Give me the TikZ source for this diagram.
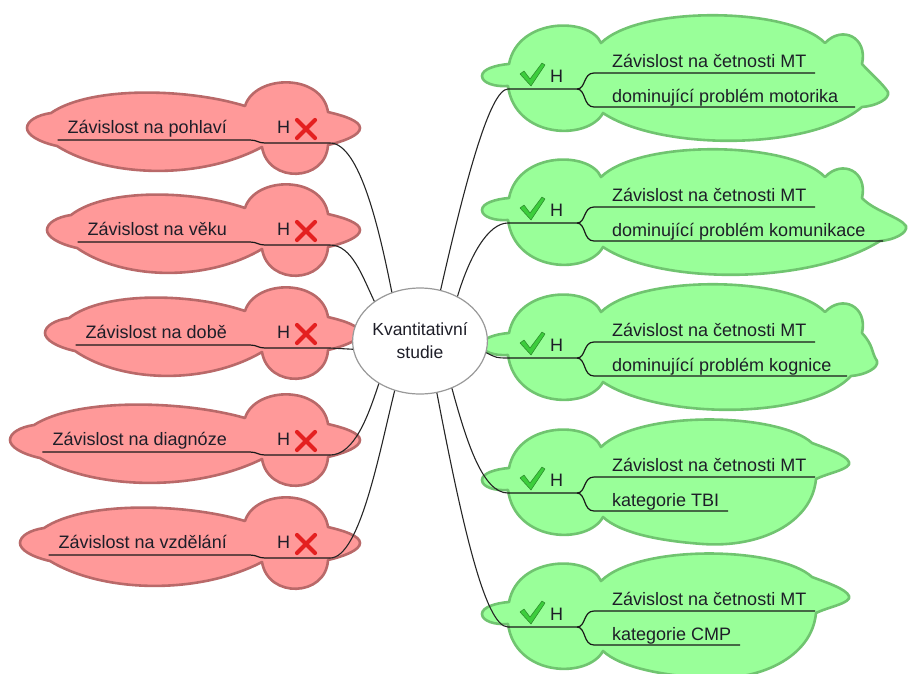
\documentclass[tikz,border=0pt]{standalone}
\usepackage{fontspec}
\setmainfont{Liberation Sans}
\usetikzlibrary{shapes.geometric,calc}
\definecolor{redfill}{RGB}{255,153,153}
\definecolor{reddraw}{RGB}{185,105,105}
\definecolor{greenfill}{RGB}{153,255,153}
\definecolor{greendraw}{RGB}{112,196,112}
\definecolor{txt}{RGB}{30,30,40}
\definecolor{xred}{RGB}{228,32,32}
\definecolor{chk}{RGB}{60,205,60}
\tikzset{
  redblob/.style={fill=redfill, draw=reddraw, line width=2.6pt, line join=round},
  greenblob/.style={fill=greenfill, draw=greendraw, line width=2.6pt, line join=round},
  uline/.style={draw=black!90, line width=1.2pt},
  conn/.style={draw=black!85, line width=1.1pt},
  lbl/.style={font=\fontsize{18}{20}\selectfont, text=txt, inner sep=0pt},
  xmark/.style={draw=xred, line width=4.2pt, line cap=round},
  chkmark/.style={fill=chk, draw=chk!65!black, line width=0.5pt, line join=round},
}
\newcommand\redcloud[2]{%
  \pgfmathsetmacro\sx{#1+24}\pgfmathsetmacro\sy{#1+30}%
  \pgfmathsetmacro\ca{#1+24+0.2*(221-#1)}\pgfmathsetmacro\cb{#1+24+0.7*(221-#1)}%
  \pgfmathsetmacro\cc{262-0.3*(232-#1)}\pgfmathsetmacro\cd{#1+30+0.25*(232-#1)}%
  \draw[redblob] (#1,#2) .. controls (#1,{#2-7}) and ({#1+10},{#2-13}) .. (\sx,{#2-15})
    .. controls (\ca,{#2-42}) and (\cb,{#2-40}) .. (245,{#2-22})
    .. controls (255,{#2-54}) and (322,{#2-55}) .. (328,{#2-16})
    .. controls (345,{#2-12}) and (360,{#2-7}) .. (360,#2)
    .. controls (360,{#2+7}) and (345,{#2+13}) .. (328,{#2+17})
    .. controls (326,{#2+54}) and (268,{#2+56}) .. (262,{#2+19})
    .. controls (\cc,{#2+52}) and (\cd,{#2+50}) .. (\sy,{#2+18})
    .. controls ({#1+12},{#2+14}) and (#1,{#2+7}) .. (#1,#2) -- cycle;
}
\newcommand\leftitem[4]{%
  \redcloud{#2}{#3}
  \node[lbl, anchor=base east] (lt#1) at (227,{#3+5}) {#4};
  \node[lbl, anchor=base west] (lh#1) at (277,{#3+5}) {H};
  \draw[xmark] (297,{#3-8}) -- (315,{#3+10}) (315,{#3-8}) -- (297,{#3+10});
  \coordinate (le#1) at (330,{#3+15});
  \draw[uline] ($(lt#1.base west)+(-10,7)$) -- (250,{#3+12}) .. controls (257,{#3+12}) and (258,{#3+15}) .. (265,{#3+15}) -- (le#1);
}
\newcommand\greenleftpart[1]{%
  (482,{#1-13}) .. controls (482,{#1-20}) and (496,{#1-24}) .. (509,{#1-25})
  .. controls (518,{#1-72}) and (590,{#1-72}) .. (601,{#1-46})}
\newcommand\greenbottompart[1]{%
  .. controls (588,{#1+52}) and (515,{#1+50}) .. (508,{#1-3})
  .. controls (495,{#1-2}) and (482,{#1-6}) .. (482,{#1-13}) -- cycle}
\newcommand\greenlong[2]{%
  \draw[greenblob] \greenleftpart{#1}
    .. controls (640,{#1-84}) and (790,{#1-82}) .. (825,{#1-46})
    .. controls (842,{#1-64}) and (868,{#1-52}) .. (862,{#1-25})
    .. controls (874,{#1-12}) and ({#2-6},{#1-6}) .. (#2,{#1+3})
    .. controls ({#2+2},{#1+10}) and ({#2-12},{#1+17}) .. ({#2-26},{#1+18})
    .. controls (810,{#1+62}) and (660,{#1+62}) .. (603,{#1+24})
    \greenbottompart{#1};
}
\newcommand\greenshort[1]{%
  \draw[greenblob] \greenleftpart{#1}
    .. controls (640,{#1-84}) and (780,{#1-80}) .. (812,{#1-50})
    .. controls (828,{#1-44}) and (846,{#1-38}) .. (849,{#1-31})
    .. controls (852,{#1-24}) and (828,{#1-20}) .. (816,{#1-14})
    .. controls (812,{#1+30}) and (760,{#1+55}) .. (703,{#1+51})
    .. controls (660,{#1+48}) and (620,{#1+40}) .. (603,{#1+24})
    \greenbottompart{#1};
}
\newcommand\rightitem[4]{%
  \node[lbl, anchor=base west] (rh#1) at (550,{#2-7}) {H};
  \filldraw[chkmark] (520,{#2-15}) -- (524,{#2-18}) -- (530,{#2-10}) -- (542,{#2-26}) -- (545,{#2-24}) -- (531,{#2-3}) -- cycle;
  \node[lbl, anchor=base west] (ra#1) at (612,{#2-22}) {Závislost na četnosti MT};
  \node[lbl, anchor=base west] (rb#1) at (612,{#2+13}) {#4};
  \coordinate (re#1) at (508,#2);
  \draw[uline] (re#1) -- (577,#2) .. controls (586,#2) and (583,{#2-16}) .. (594,{#2-16}) -- (815,{#2-16});
  \draw[uline] (577,#2) .. controls (586,#2) and (583,{#2+18}) .. (594,{#2+18}) -- (#3,{#2+18});
}
\begin{document}
\begin{tikzpicture}[x=1pt,y=-1pt]
\useasboundingbox (0,0) rectangle (909,673);
\leftitem{1}{27}{128}{Závislost na pohlaví}
\leftitem{2}{47}{230}{Závislost na věku}
\leftitem{3}{45}{333}{Závislost na době}
\leftitem{4}{10}{440}{Závislost na diagnóze}
\leftitem{5}{20}{543}{Závislost na vzdělání}
\greenlong{89}{888}
\rightitem{1}{89}{855}{dominující problém motorika}
\greenlong{223}{906}
\rightitem{2}{223}{883}{dominující problém komunikace}
\greenlong{358}{877}
\rightitem{3}{358}{847}{dominující problém kognice}
\greenshort{493}
\rightitem{4}{493}{728}{kategorie TBI}
\greenshort{627}
\rightitem{5}{627}{740}{kategorie CMP}
\node[ellipse, draw=black!40, fill=white, line width=1.2pt, minimum width=124pt, minimum height=106pt,
      inner sep=0pt, align=center, text=txt, font=\fontsize{17.5}{23}\selectfont] (c) at (420,341) {Kvantitativní\\studie};
\draw[conn] (le1) .. controls +(30,0) and +(-12,-60) .. (c.120);
\draw[conn] (le2) .. controls +(22,0) and +(-12,-25) .. (c.139);
\draw[conn] (le3) -- (c.187);
\draw[conn] (le4) .. controls +(25,0) and +(-10,30) .. (c.226);
\draw[conn] (le5) .. controls +(30,0) and +(-15,60) .. (c.243);
\draw[conn] (c.68) .. controls +(25,-110) and +(-18,0) .. (re1);
\draw[conn] (c.50) .. controls +(12,-40) and +(-20,0) .. (re2);
\draw[conn] (c.-10) .. controls +(10,5) and +(-12,0) .. (re3);
\draw[conn] (c.-56) .. controls +(15,55) and +(-25,0) .. (re4);
\draw[conn] (c.-72) .. controls +(25,130) and +(-23,0) .. (re5);
\end{tikzpicture}
\end{document}
